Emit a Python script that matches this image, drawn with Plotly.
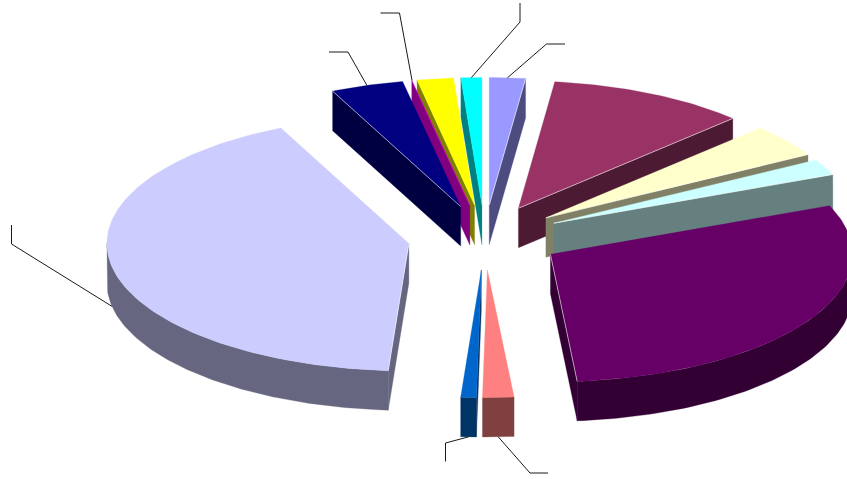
import numpy as np
import plotly.graph_objects as go

# --- data (share of the whole, %, clockwise from 12 o'clock) ---
categories = ["A", "B", "C", "D", "E", "F", "G", "H", "I", "J", "K", "L"]
values = [1.92, 10.64, 4.17, 2.03, 29.83, 1.67, 0.83, 41.94, 3.89, 0.03, 1.94, 1.11]
colors = ["#9999FF", "#993366", "#FFFFCC", "#CCFFFF", "#660066", "#FF8080",
          "#0066CC", "#CCCCFF", "#000080", "#FF00FF", "#FFFF00", "#00FFFF"]

# slices whose cut edge carries the thin light highlight
highlighted = ["A", "B", "C", "D", "E", "H", "I"]

# leader lines of the (empty) data labels: category -> elbow, then free end
leaders = {
    "A": [(546.5, 44), (565, 44)],
    "F": [(530, 473), (548, 473)],
    "G": [(445.5, 443), (445.5, 461.5)],
    "H": [(11.5, 244), (11.5, 225)],
    "I": [(348, 52), (329, 52)],
    "J": [(399.5, 13), (380.5, 13)],
    "L": [(520, 22), (520, 3)],
}

# --- projection of the tilted pie ---
W, H = 847, 479
CX, CY = 484.6, 237.5
RX, RY = 302.0, 127.5
EXPLODE = 0.255
DEPTH = 39.5
EDGE = "rgba(255,255,255,0.7)"


def half(hex_color):
    r, g, b = (int(hex_color[i:i + 2], 16) for i in (1, 3, 5))
    return f"rgb({round(r / 2)},{round(g / 2)},{round(b / 2)})"


def rim(apex, deg):
    a = np.radians(deg)
    return apex[0] + RX * np.sin(a), apex[1] - RY * np.cos(a)


def arc(apex, a0, a1):
    n = max(2, int(abs(a1 - a0)) + 2)
    return rim(apex, np.linspace(a0, a1, n))


fig = go.Figure()


def poly(xs, ys, fill, name):
    fig.add_trace(go.Scatter(
        x=list(xs) + [xs[0]], y=list(ys) + [ys[0]], mode="lines", fill="toself",
        fillcolor=fill, line=dict(color=fill, width=0.3),
        hoverinfo="skip", showlegend=False, name=name))


def highlight(apex, deg, name):
    x, y = rim(apex, deg)
    fig.add_trace(go.Scatter(
        x=[apex[0], x], y=[apex[1], y], mode="lines",
        line=dict(color=EDGE, width=0.8),
        hoverinfo="skip", showlegend=False, name=name))


total = sum(values)
edges = np.concatenate([[0.0], np.cumsum(values)]) * 360.0 / total
slices = []
for i, cat in enumerate(categories):
    a0, a1 = edges[i], edges[i + 1]
    mid = np.radians((a0 + a1) / 2)
    apex = (CX + EXPLODE * RX * np.sin(mid), CY - EXPLODE * RY * np.cos(mid))
    slices.append((apex[1], cat, a0, a1, apex, colors[i]))

# back slices first, so that nearer slices cover them
for _, cat, a0, a1, apex, col in sorted(slices, key=lambda s: s[0]):
    side = half(col)
    ax, ay = apex
    start_seen = np.sin(np.radians(a0)) < 0
    end_seen = np.sin(np.radians(a1)) > 0
    if start_seen:
        x, y = rim(apex, a0)
        poly([ax, x, x, ax], [ay, y, y + DEPTH, ay + DEPTH], side, cat)
    if end_seen:
        x, y = rim(apex, a1)
        poly([ax, x, x, ax], [ay, y, y + DEPTH, ay + DEPTH], side, cat)
    f0, f1 = max(a0, 90), min(a1, 270)  # outer wall in the front half
    if f1 > f0:
        x, y = arc(apex, f0, f1)
        poly(np.r_[x, x[::-1]], np.r_[y, y[::-1] + DEPTH], side, cat)
    x, y = arc(apex, a0, a1)
    poly(np.r_[ax, x], np.r_[ay, y], col, cat)
    if cat in highlighted:
        if start_seen:
            highlight(apex, a0, cat)
        if end_seen:
            highlight(apex, a1, cat)

for _, cat, a0, a1, apex, col in slices:
    if cat in leaders:
        m = (a0 + a1) / 2
        x, y = rim(apex, m)
        if np.cos(np.radians(m)) < 0:
            y += DEPTH
        pts = [(x, y)] + leaders[cat]
        fig.add_trace(go.Scatter(
            x=[p[0] for p in pts], y=[p[1] for p in pts], mode="lines",
            line=dict(color="#1a1a1a", width=1), hoverinfo="skip", showlegend=False))

fig.update_layout(
    width=W, height=H, autosize=False, margin=dict(l=0, r=0, t=0, b=0),
    paper_bgcolor="white", plot_bgcolor="white", showlegend=False,
    xaxis=dict(range=[0, W], visible=False, fixedrange=True),
    yaxis=dict(range=[H, 0], visible=False, fixedrange=True),
)
fig.write_html("out.html", config={"displayModeBar": False},
               post_script="document.body.style.margin='0';document.body.style.overflow='hidden';")
